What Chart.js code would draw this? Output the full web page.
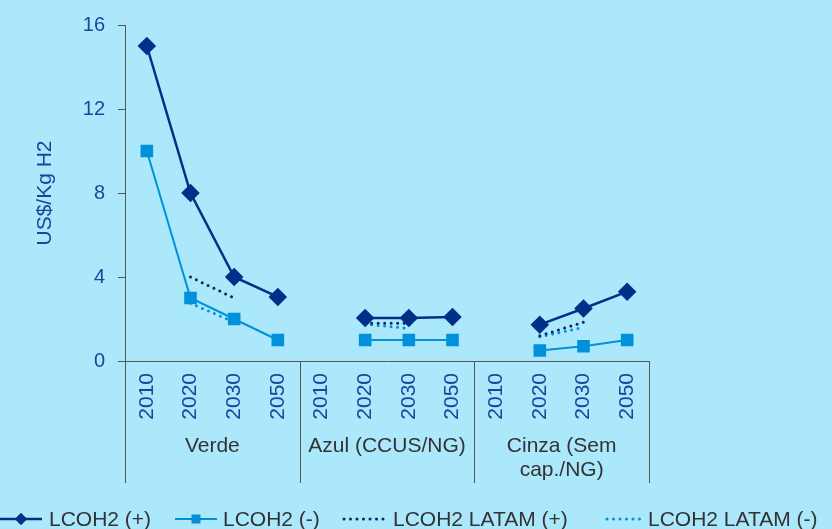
<!DOCTYPE html>
<html>
<head>
<meta charset="utf-8">
<script src="https://cdn.jsdelivr.net/npm/chart.js@4.4.1/dist/chart.umd.min.js"></script>
<style>
  html, body { margin: 0; padding: 0; background: #abe8fc; }
  canvas { display: block; }
</style>
</head>
<body>
<canvas id="c" width="832" height="529"></canvas>
<script>
// Hydrogen production cost (LCOH2) by route and year
const years = ['2010', '2020', '2030', '2050'];
const groups = [['Verde'], ['Azul (CCUS/NG)'], ['Cinza (Sem', 'cap./NG)']];
const categories = [...years, ...years, ...years];

const lcohHigh  = [15.0, 8.0, 4.0, 3.05, null, 2.05, 2.05, 2.1, null, 1.73, 2.5, 3.3];
const lcohLow   = [10.0, 3.0, 2.0, 1.0,  null, 1.0,  1.0,  1.0, null, 0.5,  0.7, 1.0];
const latamHigh = [null, 4.0, 3.0, null, null, 1.8,  1.8,  null, null, 1.2, 1.85, null];
const latamLow  = [null, 2.75, 1.85, null, null, 1.75, 1.55, null, null, 1.15, 1.6, null];

const yMin = 0, yMax = 16, yStep = 4;
const yTitle = 'US$/Kg H2';

const FONT = '"Liberation Sans", Arial, Helvetica, sans-serif';
const NAVY = '#003087';
const SKY = '#0091da';
const DOT_NAVY = '#0b2463';
const TICK_TXT = '#17479d';
const DARK_TXT = '#333333';
const AXIS = '#555555';

const datasets = [
  { label: 'LCOH2 (+)', data: lcohHigh, borderColor: NAVY, backgroundColor: NAVY,
    borderWidth: 2.5, pointStyle: 'rectRot', pointRadius: 7.5, pointHoverRadius: 7.5 },
  { label: 'LCOH2 (-)', data: lcohLow, borderColor: SKY, backgroundColor: SKY,
    borderWidth: 2, pointStyle: 'rect', pointRadius: 7.5, pointHoverRadius: 7.5 },
  { label: 'LCOH2 LATAM (+)', data: latamHigh, borderColor: DOT_NAVY, backgroundColor: DOT_NAVY,
    borderWidth: 3, borderDash: [0, 6.5], borderCapStyle: 'round', pointRadius: 0 },
  { label: 'LCOH2 LATAM (-)', data: latamLow, borderColor: SKY, backgroundColor: SKY,
    borderWidth: 3, borderDash: [0, 6.5], borderCapStyle: 'round', pointRadius: 0 }
];
datasets.forEach(d => { d.tension = 0; d.spanGaps = false; d.fill = false; });

// Group separators, group names, y title and the legend row
const decorations = {
  id: 'decorations',
  afterDraw(chart) {
    const { ctx, chartArea: a, scales: { x } } = chart;
    const bottom = a.bottom + 122;
    const per = years.length;
    const bounds = [a.left];
    for (let g = 1; g < groups.length; g++) {
      bounds.push((x.getPixelForValue(g * per - 1) + x.getPixelForValue(g * per)) / 2);
    }
    bounds.push(a.right);

    ctx.save();
    ctx.strokeStyle = AXIS;
    ctx.lineWidth = 1;
    bounds.forEach(bx => {
      const px = Math.round(bx) + 0.5;
      ctx.beginPath();
      ctx.moveTo(px, a.bottom);
      ctx.lineTo(px, bottom);
      ctx.stroke();
    });

    ctx.fillStyle = DARK_TXT;
    ctx.font = '21px ' + FONT;
    ctx.textAlign = 'center';
    ctx.textBaseline = 'middle';
    groups.forEach((lines, g) => {
      const cx = (bounds[g] + bounds[g + 1]) / 2;
      lines.forEach((t, i) => ctx.fillText(t, cx, a.bottom + 85 + i * 24));
    });

    // y axis title
    ctx.save();
    ctx.translate(45, (a.top + a.bottom) / 2);
    ctx.rotate(-Math.PI / 2);
    ctx.fillStyle = TICK_TXT;
    ctx.font = '21px ' + FONT;
    ctx.fillText(yTitle, 0, 0);
    ctx.restore();

    // legend
    const ly = 519;
    const sampleX = [0, 175, 342, 605];
    const sampleW = [42, 42, 45, 40];
    const textX = [49, 223, 393, 648];
    chart.data.datasets.forEach((d, i) => {
      const sx = sampleX[i], w = sampleW[i];
      ctx.save();
      ctx.strokeStyle = d.borderColor;
      ctx.lineWidth = d.borderWidth;
      ctx.lineCap = d.borderCapStyle || 'butt';
      ctx.setLineDash(d.borderDash || []);
      ctx.beginPath();
      ctx.moveTo(sx + (d.borderDash ? 2 : 0), ly);
      ctx.lineTo(sx + w, ly);
      ctx.stroke();
      ctx.restore();
      if (d.pointRadius) {
        Chart.helpers.drawPoint(ctx, {
          pointStyle: d.pointStyle, radius: d.pointRadius - 1.5, borderWidth: 0, rotation: 0
        }, sx + w / 2, ly);
        ctx.fillStyle = d.backgroundColor;
        ctx.fill();
      }
      ctx.fillStyle = DARK_TXT;
      ctx.font = '21px ' + FONT;
      ctx.textAlign = 'left';
      ctx.textBaseline = 'middle';
      ctx.fillText(d.label, textX[i], ly + 1);
    });
    ctx.restore();
  }
};

new Chart(document.getElementById('c'), {
  type: 'line',
  data: { labels: categories, datasets },
  plugins: [decorations],
  options: {
    responsive: false,
    devicePixelRatio: 1,
    animation: false,
    events: [],
    layout: { padding: { left: 0, top: 22, right: 183, bottom: 0 } },
    plugins: { legend: { display: false }, tooltip: { enabled: false } },
    scales: {
      x: {
        type: 'category',
        offset: true,
        afterFit(scale) { scale.height = 168; },
        grid: { display: false, offset: true },
        border: { display: true, color: AXIS, width: 1 },
        ticks: {
          autoSkip: false, maxRotation: 90, minRotation: 90, padding: 4,
          color: TICK_TXT, font: { family: FONT, size: 21 }
        }
      },
      y: {
        min: yMin, max: yMax,
        afterFit(scale) { scale.width = 125; },
        grid: { display: true, drawOnChartArea: false, drawTicks: true, tickLength: 7, color: AXIS },
        border: { display: true, color: AXIS, width: 1 },
        ticks: {
          stepSize: yStep, padding: 13,
          color: TICK_TXT, font: { family: FONT, size: 20 }
        }
      }
    }
  }
});
</script>
</body>
</html>
